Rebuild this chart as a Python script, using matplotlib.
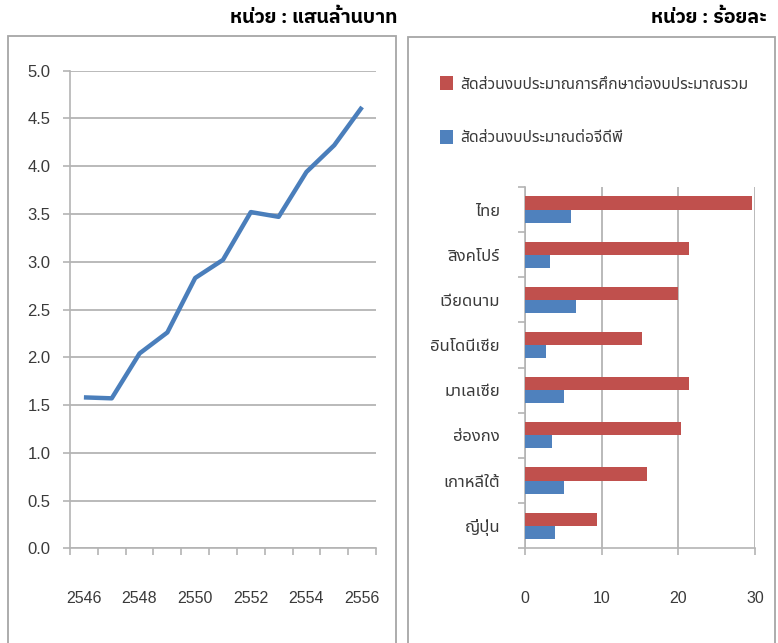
import matplotlib
matplotlib.use("Agg")
import matplotlib.pyplot as plt
from matplotlib.patches import Rectangle

# budget (แสนล้านบาท) by Thai fiscal year
YEARS = [2546, 2547, 2548, 2549, 2550, 2551, 2552, 2553, 2554, 2555, 2556]
BUDGET = [1.58, 1.57, 2.04, 2.26, 2.83, 3.02, 3.52, 3.47, 3.94, 4.22, 4.62]

# country comparison (ร้อยละ)
COUNTRIES = ["ไทย", "สิงคโปร์", "เวียดนาม", "อินโดนีเซีย", "มาเลเซีย", "ฮ่องกง", "เกาหลีใต้", "ญี่ปุ่น"]
EDU_SHARE_OF_BUDGET = [29.6, 21.4, 19.9, 15.3, 21.4, 20.3, 15.9, 9.4]
EDU_SHARE_OF_GDP = [6.0, 3.2, 6.6, 2.7, 5.1, 3.5, 5.1, 3.9]
SERIES_NAMES = ["สัดส่วนงบประมาณการศึกษาต่องบประมาณรวม", "สัดส่วนงบประมาณต่อจีดีพี"]

UNIT_LEFT = "หน่วย : แสนล้านบาท"
UNIT_RIGHT = "หน่วย : ร้อยละ"

THAI = ["Noto Sans Thai", "DejaVu Sans"]
THAI_BOLD = ["IBM Plex Sans Thai", "Noto Sans Thai", "DejaVu Sans"]
NUM = ["Liberation Sans", "DejaVu Sans"]
GRID = "#b4b4b4"
TXT = "#3a3a3a"

W, H = 778, 643


def fx(px):
    return px / W


def fy(py):
    return 1 - py / H


fig = plt.figure(figsize=(W / 100, H / 100), dpi=100)

# panel frames
fig.add_artist(Rectangle((fx(8), fy(700)), fx(396) - fx(8), fy(36) - fy(700),
                         transform=fig.transFigure, fill=False, edgecolor="#a6a6a6", lw=1.3))
fig.add_artist(Rectangle((fx(408), fy(700)), fx(775) - fx(408), fy(37) - fy(700),
                         transform=fig.transFigure, fill=False, edgecolor="#a6a6a6", lw=1.3))

fig.text(fx(397), fy(18), UNIT_LEFT, ha="right", va="center", fontsize=14,
         fontweight="bold", family=THAI_BOLD, color="black")
fig.text(fx(767), fy(18), UNIT_RIGHT, ha="right", va="center", fontsize=14,
         fontweight="bold", family=THAI_BOLD, color="black")

# ---- left: line chart
ax1 = fig.add_axes([fx(70), fy(548.3), fx(376) - fx(70), fy(70.7) - fy(548.3)])
xs = list(range(len(YEARS)))
ax1.plot(xs, BUDGET, color="#4a7ebb", lw=3.2, solid_capstyle="butt", zorder=3)
ax1.set_xlim(-0.5, len(YEARS) - 0.5)
ax1.set_ylim(0, 5)
ax1.set_yticks([i * 0.5 for i in range(11)])
ax1.set_yticklabels(["%.1f" % (i * 0.5) for i in range(11)])
ax1.set_xticks(xs[::2])
ax1.set_xticklabels([str(y) for y in YEARS[::2]])
ax1.set_xticks([i - 0.5 for i in range(len(YEARS) + 1)], minor=True)
ax1.tick_params(axis="x", which="major", length=0, pad=31)
ax1.tick_params(axis="x", which="minor", length=5, width=1.2, color=GRID, direction="out")
ax1.tick_params(axis="y", length=5, width=1.2, color=GRID, pad=9)
ax1.grid(axis="y", color=GRID, lw=1.3)
ax1.set_axisbelow(True)
for s in ["top", "right"]:
    ax1.spines[s].set_visible(False)
for s in ["left", "bottom"]:
    ax1.spines[s].set_color(GRID)
    ax1.spines[s].set_linewidth(1.2)
for lab in ax1.get_xticklabels():
    lab.set_family(NUM)
    lab.set_fontsize(11.5)
    lab.set_color(TXT)
for lab in ax1.get_yticklabels():
    lab.set_family(NUM)
    lab.set_fontsize(12)
    lab.set_color(TXT)

# ---- right: horizontal bars
ax2 = fig.add_axes([fx(525), fy(548.3), fx(755) - fx(525), fy(187) - fy(548.3)])
ys = list(range(len(COUNTRIES)))
bh = 0.29
ax2.barh([y - bh / 2 for y in ys], EDU_SHARE_OF_BUDGET, height=bh, color="#c0504d",
         label=SERIES_NAMES[0], zorder=3)
ax2.barh([y + bh / 2 for y in ys], EDU_SHARE_OF_GDP, height=bh, color="#4f81bd",
         label=SERIES_NAMES[1], zorder=3)
ax2.set_xlim(0, 30)
ax2.set_ylim(len(COUNTRIES) - 0.5, -0.5)
ax2.set_xticks([0, 10, 20, 30])
ax2.set_yticks(ys)
ax2.set_yticklabels(COUNTRIES, family=THAI, fontsize=12, color=TXT)
ax2.set_yticks([i - 0.5 for i in range(len(COUNTRIES) + 1)], minor=True)
ax2.tick_params(axis="y", which="major", length=0, pad=18)
ax2.tick_params(axis="y", which="minor", length=5, width=1.2, color=GRID, direction="out")
ax2.tick_params(axis="x", length=5, width=1.2, color=GRID, pad=26)
ax2.grid(axis="x", color=GRID, lw=1.3)
ax2.set_axisbelow(True)
for s in ["top", "right"]:
    ax2.spines[s].set_visible(False)
for s in ["left", "bottom"]:
    ax2.spines[s].set_color(GRID)
    ax2.spines[s].set_linewidth(1.2)
for lab in ax2.get_xticklabels():
    lab.set_family(NUM)
    lab.set_fontsize(11.5)
    lab.set_color(TXT)

leg = ax2.legend(loc="upper left", bbox_to_anchor=(fx(434), fy(70)), bbox_transform=fig.transFigure,
                 frameon=False, prop={"family": THAI, "size": 11.3}, handlelength=0.8,
                 handleheight=1.0, handletextpad=0.45, labelspacing=2.35, borderaxespad=0)
for t in leg.get_texts():
    t.set_color(TXT)

fig.savefig("out.png", dpi=100)
